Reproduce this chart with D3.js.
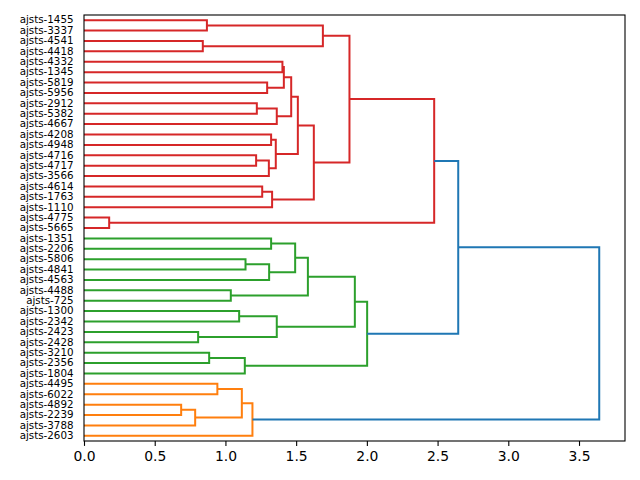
<!DOCTYPE html>
<html>
<head>
<meta charset="utf-8">
<script src="https://cdn.jsdelivr.net/npm/d3@7"></script>
<style>
  body { margin: 0; background: #fff; }
  text { font-family: "DejaVu Sans", sans-serif; fill: #000; }
</style>
</head>
<body>
<script>
const w = 640;
const h = 480;
const margin = { left: 84, right: 15, top: 15, bottom: 39 };

// leaves, top to bottom
const leaves = [
  "ajsts-1455", "ajsts-3337", "ajsts-4541", "ajsts-4418", "ajsts-4332", "ajsts-1345",
  "ajsts-5819", "ajsts-5956", "ajsts-2912", "ajsts-5382", "ajsts-4667", "ajsts-4208",
  "ajsts-4948", "ajsts-4716", "ajsts-4717", "ajsts-3566", "ajsts-4614", "ajsts-1763",
  "ajsts-1110", "ajsts-4775", "ajsts-5665",
  "ajsts-1351", "ajsts-2206", "ajsts-5806", "ajsts-4841", "ajsts-4563", "ajsts-4488",
  "ajsts-725", "ajsts-1300", "ajsts-2342", "ajsts-2423", "ajsts-2428", "ajsts-3210",
  "ajsts-2356", "ajsts-1804",
  "ajsts-4495", "ajsts-6022", "ajsts-4892", "ajsts-2239", "ajsts-3788", "ajsts-2603"
];

// cluster group of each leaf (count per group) and colours
const groupSizes = [21, 14, 6];
const groupColors = ["#d62728", "#2ca02c", "#ff7f0e"];
const aboveColor = "#1f77b4";
const threshold = 2.55;

// linkage: [child a, child b, height]; ids < 41 are leaves, id 41+k is merge k
const merges = [
  [0, 1, 0.869], [2, 3, 0.840], [41, 42, 1.689],
  [4, 5, 1.403], [6, 7, 1.295], [44, 45, 1.413],
  [8, 9, 1.222], [47, 10, 1.363], [46, 48, 1.465],
  [11, 12, 1.323], [13, 14, 1.217], [51, 15, 1.307], [50, 52, 1.356],
  [49, 53, 1.512], [16, 17, 1.260], [55, 18, 1.330], [54, 56, 1.625],
  [43, 57, 1.877], [19, 20, 0.178], [58, 59, 2.476],
  [21, 22, 1.323], [23, 24, 1.142], [62, 25, 1.309], [61, 63, 1.493],
  [26, 27, 1.038], [64, 65, 1.583], [28, 29, 1.097], [30, 31, 0.807],
  [67, 68, 1.363], [66, 69, 1.915], [32, 33, 0.885], [71, 34, 1.137],
  [70, 72, 2.002],
  [35, 36, 0.943], [37, 38, 0.687], [75, 39, 0.786], [74, 76, 1.116],
  [77, 40, 1.191],
  [60, 73, 2.646], [79, 78, 3.643]
];

const xTicks = [0, 0.5, 1, 1.5, 2, 2.5, 3, 3.5];

const n = leaves.length;
const maxH = d3.max(merges, d => d[2]);

const xScale = d3.scaleLinear()
  .domain([0, maxH * 1.05])
  .range([margin.left, w - margin.right]);

const yScale = d3.scaleBand()
  .domain(leaves)
  .range([margin.top, h - margin.bottom])
  .padding(0);

const leafGroup = [];
groupSizes.forEach((s, g) => { for (let i = 0; i < s; i++) leafGroup.push(g); });

// position, height and first leaf of every node
const nodes = leaves.map((d, i) => ({ y: yScale(d) + yScale.bandwidth() / 2, x: 0, leaf: i }));
merges.forEach(m => {
  const a = nodes[m[0]], b = nodes[m[1]];
  nodes.push({ y: (a.y + b.y) / 2, x: m[2], leaf: a.leaf });
});

const svg = d3.select("body").append("svg")
  .attr("width", w)
  .attr("height", h);

svg.append("g")
  .selectAll("path")
  .data(merges)
  .enter()
  .append("path")
  .attr("fill", "none")
  .attr("stroke-width", 2)
  .attr("stroke", d => d[2] > threshold ? aboveColor : groupColors[leafGroup[nodes[d[0]].leaf]])
  .attr("d", d => {
    const a = nodes[d[0]], b = nodes[d[1]];
    return `M${xScale(a.x)},${a.y}H${xScale(d[2])}V${b.y}H${xScale(b.x)}`;
  });

// frame
svg.append("rect")
  .attr("x", margin.left)
  .attr("y", margin.top)
  .attr("width", w - margin.left - margin.right)
  .attr("height", h - margin.top - margin.bottom)
  .attr("fill", "none")
  .attr("stroke", "#000")
  .attr("stroke-width", 1.1);

const xAxis = d3.axisBottom(xScale)
  .tickValues(xTicks)
  .tickFormat(d3.format(".1f"))
  .tickSize(4.9)
  .tickPadding(4.9);

svg.append("g")
  .attr("transform", `translate(0, ${h - margin.bottom})`)
  .call(xAxis)
  .call(g => g.select(".domain").remove())
  .call(g => g.selectAll("line").attr("stroke-width", 1.1))
  .selectAll("text")
  .attr("font-size", 13.9)
  .attr("font-family", "DejaVu Sans");

const yAxis = d3.axisLeft(yScale)
  .tickSize(0)
  .tickPadding(10.5);

svg.append("g")
  .attr("transform", `translate(${margin.left}, 0)`)
  .call(yAxis)
  .call(g => g.select(".domain").remove())
  .selectAll("text")
  .attr("font-size", 10.3)
  .attr("font-family", "DejaVu Sans");
</script>
</body>
</html>
